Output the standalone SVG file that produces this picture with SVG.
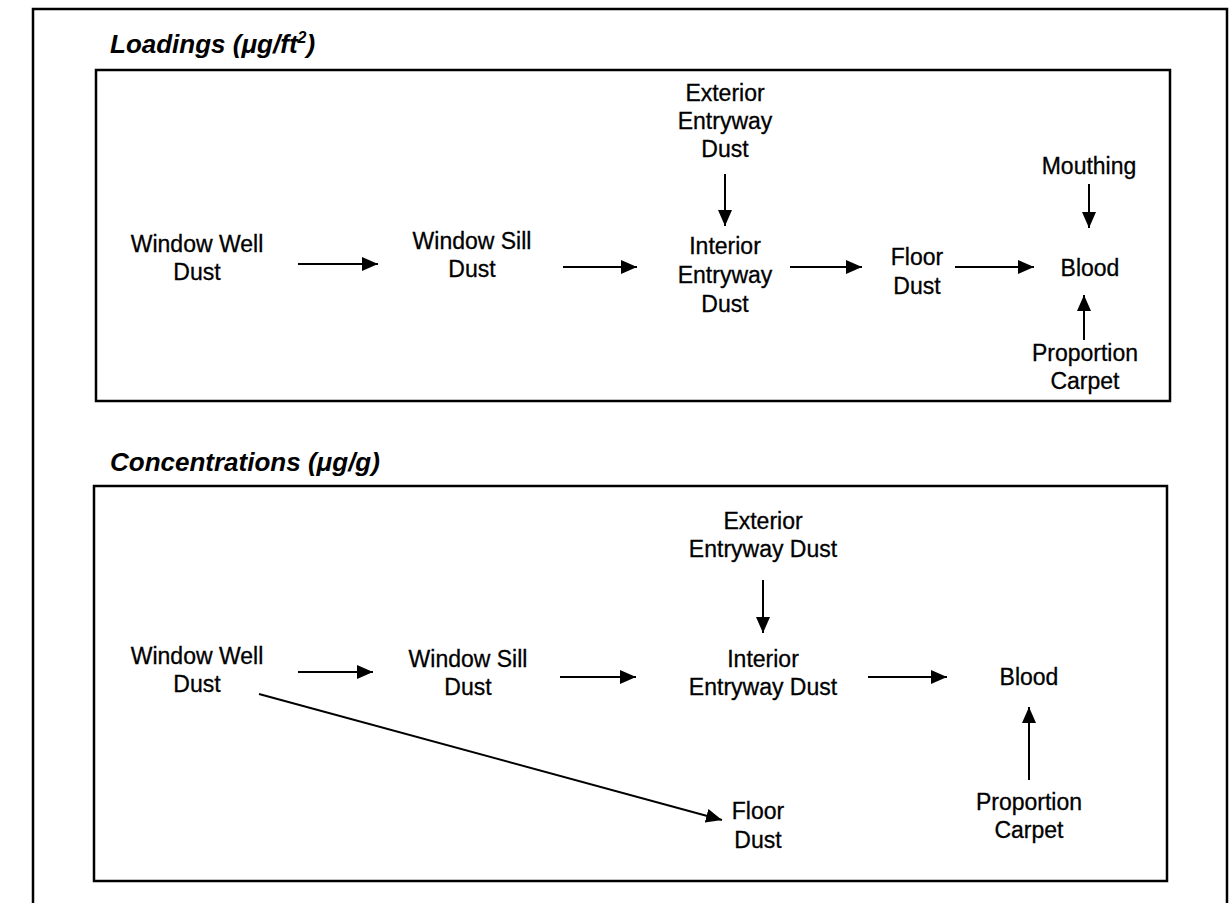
<svg xmlns="http://www.w3.org/2000/svg" width="1229" height="903" viewBox="0 0 1229 903">
<style>
.frame{fill:none;stroke:#000;stroke-width:2.5}
.title{font-family:"Liberation Sans",Arial,sans-serif;font-size:26px;font-weight:bold;font-style:italic;fill:#000}
.lbl{font-family:"Liberation Sans",Arial,sans-serif;font-size:23px;fill:#000;stroke:#000;stroke-width:0.3;text-anchor:middle}
.conn line{stroke:#000;stroke-width:2;marker-end:url(#ah)}
</style>
<defs>
<marker id="ah" markerUnits="userSpaceOnUse" markerWidth="18" markerHeight="14" refX="16" refY="7" orient="auto">
<path d="M0,0 L16,7 L0,14 Z" fill="#000"/>
</marker>
</defs>
<rect width="1229" height="903" fill="#fff"/>
<path class="frame" d="M33,906 L33,9 L1227,9 L1227,906" stroke-width="3"/>
<rect class="frame" x="96" y="70" width="1074" height="331"/>
<rect class="frame" x="94" y="486" width="1073" height="395"/>
<text class="title" x="110" y="53">Loadings (μg/ft<tspan font-size="16" dy="-10">2</tspan><tspan dy="10">)</tspan></text>
<text class="title" x="110" y="471">Concentrations (μg/g)</text>

<g id="load-windowwell"><text class="lbl" x="197" y="252">Window Well</text><text class="lbl" x="197" y="280">Dust</text></g>
<g id="load-windowsill"><text class="lbl" x="472" y="249">Window Sill</text><text class="lbl" x="472" y="277">Dust</text></g>
<g id="load-exterior"><text class="lbl" x="725" y="101">Exterior</text><text class="lbl" x="725" y="129">Entryway</text><text class="lbl" x="725" y="157">Dust</text></g>
<g id="load-interior"><text class="lbl" x="725" y="254">Interior</text><text class="lbl" x="725" y="283">Entryway</text><text class="lbl" x="725" y="312">Dust</text></g>
<g id="load-floor"><text class="lbl" x="917" y="265">Floor</text><text class="lbl" x="917" y="294">Dust</text></g>
<g id="load-mouthing"><text class="lbl" x="1089" y="174">Mouthing</text></g>
<g id="load-blood"><text class="lbl" x="1090" y="276">Blood</text></g>
<g id="load-carpet"><text class="lbl" x="1085" y="361">Proportion</text><text class="lbl" x="1085" y="389">Carpet</text></g>

<g id="conc-windowwell"><text class="lbl" x="197" y="664">Window Well</text><text class="lbl" x="197" y="692">Dust</text></g>
<g id="conc-windowsill"><text class="lbl" x="468" y="667">Window Sill</text><text class="lbl" x="468" y="695">Dust</text></g>
<g id="conc-exterior"><text class="lbl" x="763" y="529">Exterior</text><text class="lbl" x="763" y="557">Entryway Dust</text></g>
<g id="conc-interior"><text class="lbl" x="763" y="667">Interior</text><text class="lbl" x="763" y="695">Entryway Dust</text></g>
<g id="conc-blood"><text class="lbl" x="1029" y="685">Blood</text></g>
<g id="conc-carpet"><text class="lbl" x="1029" y="810">Proportion</text><text class="lbl" x="1029" y="838">Carpet</text></g>
<g id="conc-floor"><text class="lbl" x="758" y="819">Floor</text><text class="lbl" x="758" y="848">Dust</text></g>

<g id="connectors" class="conn">
<line x1="298" y1="264" x2="378" y2="264"/>
<line x1="563" y1="267" x2="637" y2="267"/>
<line x1="725" y1="174" x2="725" y2="226"/>
<line x1="790" y1="267" x2="862" y2="267"/>
<line x1="955" y1="267" x2="1034" y2="267"/>
<line x1="1089" y1="184" x2="1089" y2="228"/>
<line x1="1084" y1="340" x2="1084" y2="295"/>
<line x1="298" y1="672" x2="373" y2="672"/>
<line x1="560" y1="677" x2="636" y2="677"/>
<line x1="763" y1="580" x2="763" y2="633"/>
<line x1="868" y1="677" x2="947" y2="677"/>
<line x1="1029" y1="780" x2="1029" y2="707"/>
<line x1="259" y1="694" x2="722" y2="820"/>
</g>
</svg>
